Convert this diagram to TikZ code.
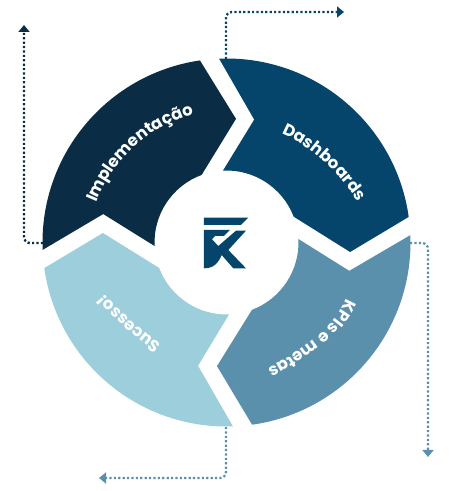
\documentclass[tikz,border=0pt]{standalone}
\usepackage{fontspec}
\setsansfont{Poppins}
\usetikzlibrary{arrows.meta,calc,decorations.text}
\definecolor{corImpl}{HTML}{0A2C44}
\definecolor{corDash}{HTML}{05456B}
\definecolor{corKpis}{HTML}{5B90AD}
\definecolor{corSuc}{HTML}{9DCEDC}
\tikzset{
    pontilhado/.style={line width=2.3pt,dash pattern=on 2.2pt off 2.2pt,rounded corners=6pt,-{Triangle[width=11pt,length=7pt]}},
    rotulo/.style={decoration={text along path,text={|\sffamily\fontsize{16.5}{16.5}\selectfont\bfseries\color{white}|#1},text align=center},decorate}
}
\begin{document}
\begin{tikzpicture}[x=1pt,y=1pt,declare function={Rext=184;Rint=72;}]
        \useasboundingbox (0,0) rectangle (459,491);
        \coordinate (O) at (226.5,248.5);
        % setas
        \coordinate (A1) at (43,248);
        \coordinate (A2) at (24,248);
        \coordinate (A3) at (24,466);
        \coordinate (B1) at (226,432);
        \coordinate (B2) at (226,479);
        \coordinate (B3) at (344,479);
        \coordinate (C1) at (410,248);
        \coordinate (C2) at (428,248);
        \coordinate (C3) at (428,34);
        \coordinate (D1) at (226,64);
        \coordinate (D2) at (226,13);
        \coordinate (D3) at (99,13);
        \draw[pontilhado,corImpl] (A1) -- (A2) -- (A3);
        \draw[pontilhado,corDash] (B1) -- (B2) -- (B3);
        \draw[pontilhado,corKpis] (C1) -- (C2) -- (C3);
        \draw[pontilhado,corKpis] (D1) -- (D2) -- (D3);
        % setores
        \fill[corImpl] ($(O)+(182.3:Rext)$) arc[start angle=182.3,end angle=98.3,radius=Rext] -- ($(O)+(85.6:124)$) -- ($(O)+(110.2:Rint)$) arc[start angle=110.2,end angle=182.8,radius=Rint] -- ($(O)+(167:126.5)$) -- cycle;
        \fill[corDash] ($(O)+(92.3:Rext)$) arc[start angle=92.3,end angle=8,radius=Rext] -- ($(O)+(-4.4:124)$) -- ($(O)+(21:Rint)$) arc[start angle=21,end angle=92.8,radius=Rint] -- ($(O)+(77.3:126)$) -- cycle;
        \fill[corKpis] ($(O)+(2.3:Rext)$) arc[start angle=2.3,end angle=-82,radius=Rext] -- ($(O)+(-94.4:124)$) -- ($(O)+(-69.3:Rint)$) arc[start angle=-69.3,end angle=2.8,radius=Rint] -- ($(O)+(-13:126)$) -- cycle;
        \fill[corSuc] ($(O)+(-88:Rext)$) arc[start angle=-88,end angle=-172,radius=Rext] -- ($(O)+(-184.4:124)$) -- ($(O)+(-159.3:Rint)$) arc[start angle=-159.3,end angle=-88,radius=Rint] -- ($(O)+(-103:126.5)$) -- cycle;
        % textos
        \path[rotulo={Implementação}] (95,285) .. controls (114,333) and (148,365) .. (197,378);
        \path[rotulo={Dashboards}] (280,358) .. controls (307,347) and (334,325) .. (359,288);
        \path[rotulo={KPIs e metas}] (348,196) .. controls (338,168) and (311,144) .. (264,121);
        \path[rotulo={Sucesso!}] (164,145) .. controls (138,164) and (119,180) .. (102,200);
        % logo
        \begin{scope}[shift={(150,331)},x=0.3333pt,y=-0.3333pt]
            \fill[corDash] (162,173) -- (295,173) -- (273,195) -- (162,195) -- cycle;
            \fill[corDash] (162,210) -- (240,210) -- (222,228) -- (195,228) -- (186,238) -- (205,258) -- (258,212) -- (288,212) -- (235,270) -- (288,325) -- (250,325) -- (215,285) .. controls (205,310) and (190,325) .. (162,325) -- cycle;
        \end{scope}
\end{tikzpicture}
\end{document}
